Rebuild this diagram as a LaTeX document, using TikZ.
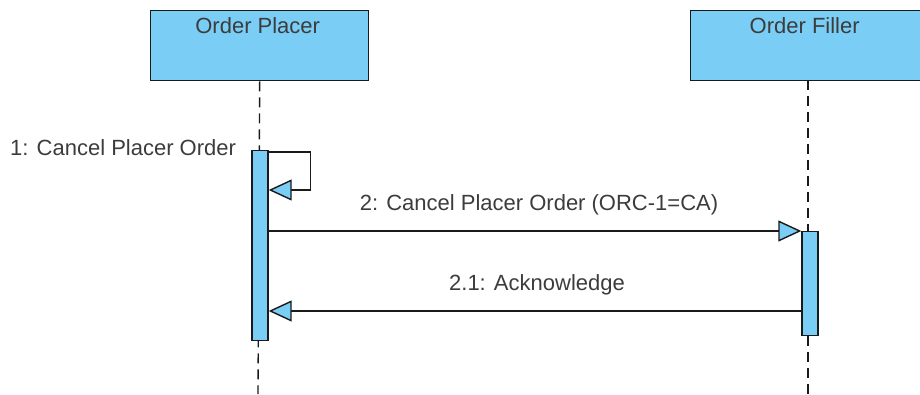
\documentclass[tikz,border=0pt]{standalone}
\usepackage{fontspec}
\setmainfont{Liberation Sans}
\usetikzlibrary{arrows.meta,positioning,calc}
\definecolor{lifeblue}{HTML}{7ACDF4}
\definecolor{ink}{HTML}{1A1A1A}
\tikzset{
  lifebox/.style={rectangle, draw=ink, fill=lifeblue, line width=1.4pt, minimum width=218pt,
                  minimum height=70pt, inner sep=0pt},
  actbar/.style={rectangle, draw=ink, fill=lifeblue, line width=1.4pt, minimum width=16pt, inner sep=0pt},
  lifeline/.style={draw=ink, line width=1.4pt, dash pattern=on 10pt off 6pt},
  msg/.style={-{Triangle[open, length=23pt, width=21pt, fill=lifeblue, line width=1.4pt]}, draw=ink, line width=1.4pt},
  lbl/.style={font=\fontsize{22}{25}\selectfont, text=ink!85, inner sep=0pt}
}
\begin{document}
\begin{tikzpicture}[x=1pt, y=-1pt]
  \useasboundingbox (0,0) rectangle (920,394);
  % participants
  \node[lifebox, anchor=north west, label={[lbl, anchor=north, xshift=-2pt, yshift=-7pt]north:Order Placer}] (placer) at (150,10) {};
  \node[lifebox, anchor=north west, minimum width=230pt, label={[lbl, anchor=north, xshift=-1pt, yshift=-7pt]north:Order Filler}] (filler) at (690,10) {};
  \coordinate (placerEnd) at (258,394);
  \coordinate (fillerTop) at (808,80);
  \coordinate (fillerEnd) at (808,394);
  \draw[lifeline] (placer.south) -- (placerEnd);
  \draw[lifeline] (fillerTop) -- (fillerEnd);
  % activations
  \node[actbar, anchor=north, minimum height=190pt] (actP) at (260,150) {};
  \node[actbar, anchor=north, minimum height=104pt] (actF) at (810,231) {};
  \coordinate (ackStart) at ([yshift=-80pt]actF.north west);
  % messages
  \draw[msg] ([yshift=-2pt]actP.north east) -- ++(42,0) |- ([yshift=-40pt]actP.north east);
  \draw[msg] (actP.east |- actF.north) -- (actF.north west);
  \draw[msg] (ackStart) -- (actP.east |- ackStart);
  % labels
  \node[lbl, anchor=base west] (m1) at (10,155) {1: Cancel Placer Order};
  \node[lbl, anchor=base] (m2) at (539,210) {2: Cancel Placer Order (ORC-1=CA)};
  \node[lbl, anchor=base] (m21) at (537,290) {2.1: Acknowledge};
\end{tikzpicture}
\end{document}
